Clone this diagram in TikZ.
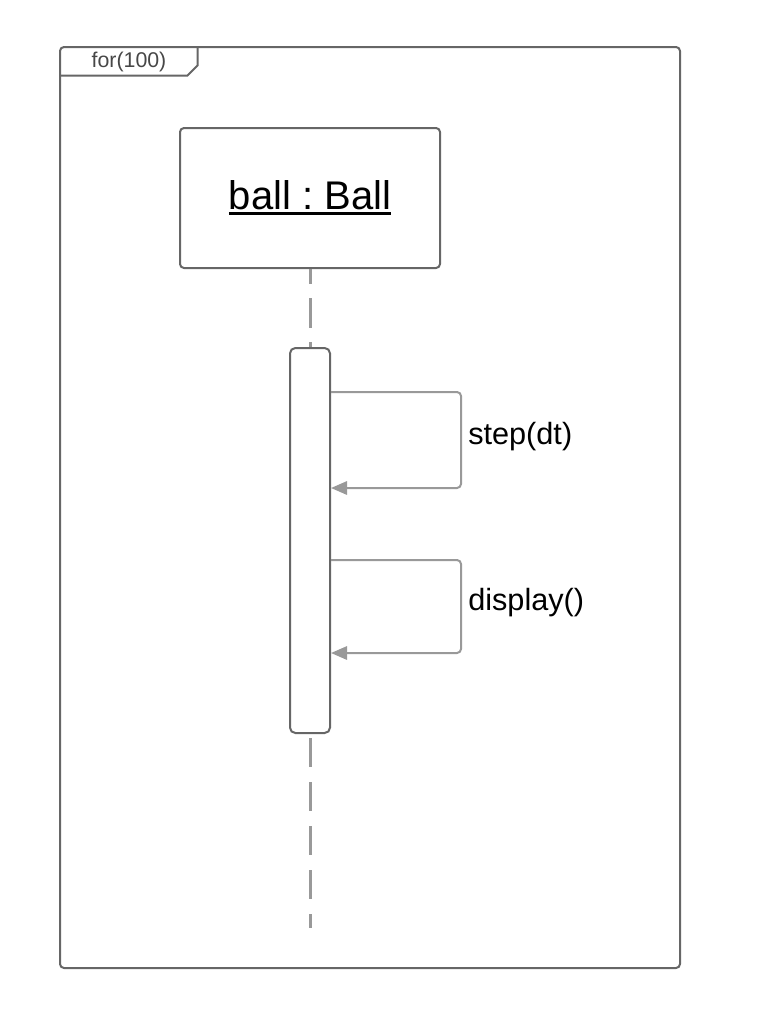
\documentclass[tikz,border=0pt]{standalone}
\usepackage{fontspec}
\setmainfont{Liberation Sans}
\usepackage{tikz}
\usetikzlibrary{arrows.meta,positioning,calc}
\definecolor{framegray}{RGB}{102,102,102}
\definecolor{msggray}{RGB}{153,153,153}
\newcommand{\objul}[1]{\setbox0\hbox{#1}\rlap{\rule[-4pt]{\wd0}{2.2pt}}\box0}
\tikzset{
    frame/.style={draw=framegray, line width=1.5pt, rounded corners=3pt, minimum width=465pt, minimum height=690.75pt},
    object/.style={draw=framegray, line width=1.5pt, rounded corners=3pt, minimum width=195pt, minimum height=105pt, font=\fontsize{30}{35}\selectfont},
    activation/.style={draw=framegray, fill=white, line width=1.5pt, rounded corners=4pt, minimum width=30pt, minimum height=288.75pt},
    lifeline/.style={draw=msggray, line width=2.25pt, dash pattern=on 22.1pt off 10.9pt},
    msg/.style={draw=msggray, line width=1.5pt, rounded corners=3pt, -{Triangle[length=12pt, width=10pt, fill=msggray]}},
    msglabel/.style={font=\fontsize{23}{28}\selectfont, anchor=west, inner sep=0pt},
}
\begin{document}
\begin{tikzpicture}[x=0.75pt, y=-0.75pt]
    \useasboundingbox (0,0) rectangle (758,1032);

    % loop frame
    \node[frame] (loop) at (370,507.5) {};
    \draw[framegray, line width=1.5pt] (loop.north west) ++(0,29.5) -- ++(128.5,0) -- ++(10,-10) -- ++(0,-19.5);
    \node[font=\fontsize{16}{19}\selectfont, text=framegray!70!black] (cond) at (129,61.5) {for(100)};

    % object and lifeline
    \node[object] (ball) at (310,198) {\objul{ball :\ Ball}};
    \node[activation] (act) at (310,540.5) {};
    \coordinate (lifeend) at (310,928);
    \draw[lifeline, dash phase=10.9pt] (ball.south) -- (act.north);
    \draw[lifeline] ([yshift=-3pt]act.south) -- (lifeend);

    % self messages
    \coordinate (m1) at (330,392);
    \coordinate (r1) at (330,488);
    \coordinate (m2) at (330,560);
    \coordinate (r2) at (330,653);
    \draw[msg] (act.east |- m1) -- ++(130,0) |- (act.east |- r1);
    \draw[msg] (act.east |- m2) -- ++(130,0) |- (act.east |- r2);
    \node[msglabel] (stepdt) at (468,437) {step(dt)};
    \node[msglabel] (disp) at (468,603) {display()};
\end{tikzpicture}
\end{document}
